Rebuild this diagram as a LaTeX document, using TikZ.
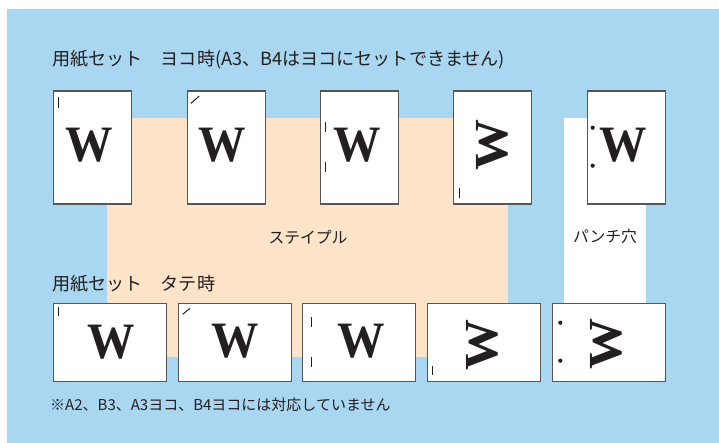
\documentclass[tikz,border=0pt]{standalone}
\usepackage{fontspec}
\newfontfamily\jp{Noto Sans CJK JP}
\newfontfamily\wserif{Liberation Serif}
\definecolor{bgblue}{HTML}{A9D6F1}
\definecolor{peach}{HTML}{FDE3C8}
\definecolor{ink}{HTML}{231F20}
\definecolor{edge}{HTML}{555658}
\tikzset{
  paperv/.style={draw=edge, line width=1.1bp, fill=white, anchor=north west, minimum width=78bp, minimum height=113bp, inner sep=0pt},
  paperh/.style={draw=edge, line width=1.1bp, fill=white, anchor=north west, minimum width=113bp, minimum height=78bp, inner sep=0pt},
  wlet/.style={inner sep=0pt, text=ink, font=\wserif\bfseries\fontsize{51bp}{51bp}\selectfont, xscale=0.93},
  wrot/.style={inner sep=0pt, text=ink, font=\wserif\bfseries\fontsize{51bp}{51bp}\selectfont, xscale=0.93, rotate=90},
  smark/.style={draw=ink, line width=1bp},
  hole/.style={fill=ink, circle, inner sep=0pt, minimum size=4.2bp},
  title/.style={inner sep=0pt, anchor=west, text=ink, font=\jp\fontsize{18.1bp}{20bp}\selectfont},
  label/.style={inner sep=0pt, text=ink, font=\jp\fontsize{15.8bp}{17bp}\selectfont},
  note/.style={inner sep=0pt, anchor=west, text=ink, font=\jp\fontsize{15bp}{16bp}\selectfont},
}
\begin{document}
\begin{tikzpicture}[x=1bp, y=-1bp]
\useasboundingbox (0,0) rectangle (719,443);
\fill[bgblue] (7,9) rectangle (719,443);
\fill[peach] (107,118) rectangle (508,357);
\fill[white] (564,118) rectangle (646,303);

\node[title] (t1) at (52,59.5) {用紙セット　ヨコ時(A3、B4はヨコにセットできません)};
\node[title] (t2) at (52,284) {用紙セット　タテ時};
\node[label] (staple) at (308,237) {ステイプル};
\node[label] (punch) at (605,237) {パンチ穴};
\node[note] (n1) at (50,405) {※A2、B3、A3ヨコ、B4ヨコには対応していません};

% top row (portrait sheets)
\node[paperv] (p1) at (53,90.5) {};
\node[paperv] (p2) at (187,90.5) {};
\node[paperv] (p3) at (320,90.5) {};
\node[paperv] (p4) at (453,90.5) {};
\node[paperv] (p5) at (587,90.5) {};
\node[wlet] (w1) at (89,145) {W};
\node[wlet] (w2) at (222,145) {W};
\node[wlet] (w3) at (357,145) {W};
\node[wrot] (w4) at (492,145) {W};
\node[wlet] (w5) at (623.5,145.5) {W};
\draw[smark] (58.3,97) -- (58.3,107.7);
\draw[smark] (191,103.3) -- (199.3,96);
\draw[smark] (325.7,121.7) -- (325.7,131.7);
\draw[smark] (325.7,162.3) -- (325.7,172.3);
\draw[smark] (459,188.3) -- (459,198.3);
\node[hole] (h1) at (592.7,127.7) {};
\node[hole] (h2) at (592.7,165.7) {};

% bottom row (landscape sheets)
\node[paperh] (q1) at (53,303) {};
\node[paperh] (q2) at (178,303) {};
\node[paperh] (q3) at (302,303) {};
\node[paperh] (q4) at (427,303) {};
\node[paperh] (q5) at (552,303) {};
\node[wlet] (v1) at (111,342) {W};
\node[wlet] (v2) at (235.5,341.5) {W};
\node[wlet] (v3) at (361.3,341.5) {W};
\node[wrot] (v4) at (482,344.5) {W};
\node[wrot] (v5) at (606.7,344) {W};
\draw[smark] (58.3,306.7) -- (58.3,316);
\draw[smark] (182.7,314.3) -- (190,308.3);
\draw[smark] (311,317.3) -- (311,326.7);
\draw[smark] (311,356.7) -- (311,366.7);
\draw[smark] (432.7,366) -- (432.7,375);
\node[hole] (h3) at (560.3,322.7) {};
\node[hole] (h4) at (560.3,360.7) {};
\end{tikzpicture}
\end{document}
